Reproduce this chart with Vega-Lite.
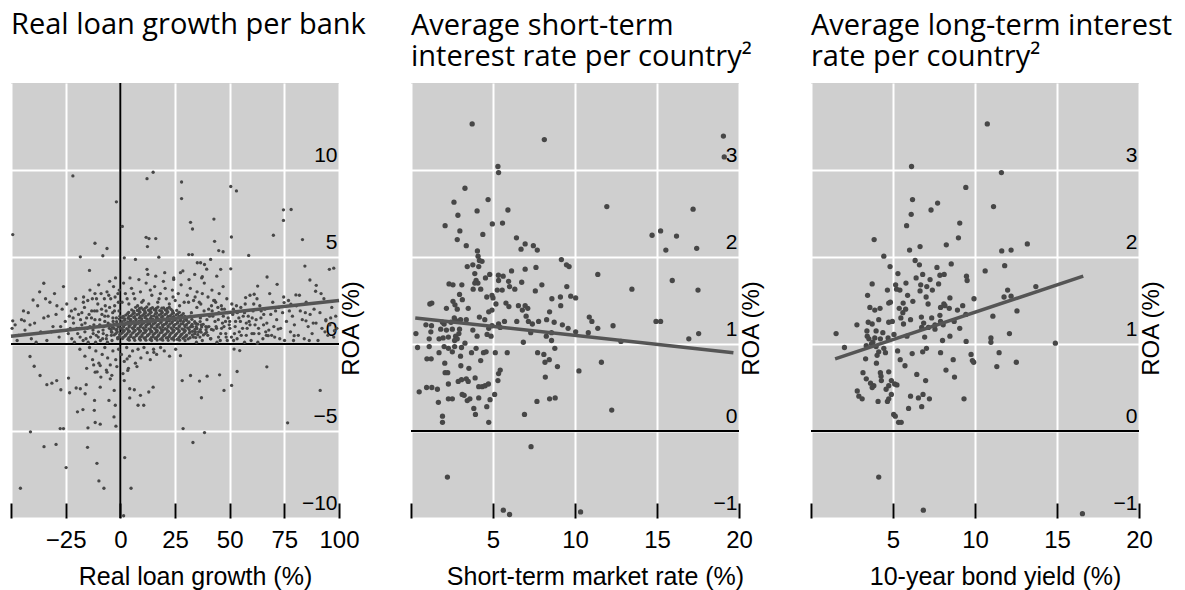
{
"$schema": "https://vega.github.io/schema/vega-lite/v6.json",
"padding": {"left": 4, "top": 11, "right": 5, "bottom": 5},
"background": "#ffffff",
"bounds": "flush",
"spacing": 72,
"datasets": {
"p1": [
{"x":-49.2,"y":6.29},{"x":-21.7,"y":9.66},{"x":12.2,"y":9.5},{"x":15,"y":9.87},{"x":-1.8,"y":8.17},{"x":28,"y":9.31},{"x":28,"y":8.36},{"x":50.5,"y":9.05},{"x":53.1,"y":8.8},{"x":0.9,"y":6.76},{"x":32.1,"y":6.99},{"x":33,"y":6.61},{"x":42.8,"y":7.18},{"x":74.6,"y":7.1},{"x":78.1,"y":7.73},{"x":74.6,"y":7.71},{"x":70,"y":6.25},{"x":50.8,"y":6.15},{"x":43.1,"y":5.9},{"x":45,"y":5.37},{"x":47,"y":5.3},{"x":58.7,"y":5.09},{"x":83.3,"y":6},{"x":11.8,"y":6.13},{"x":13.1,"y":6.06},{"x":16.2,"y":6.06},{"x":12.4,"y":5.6},{"x":-11.6,"y":5.79},{"x":-6.1,"y":5.49},{"x":-18.3,"y":5.01},{"x":-8,"y":5.07},{"x":-14.1,"y":4.23},{"x":-35,"y":3.49},{"x":-39.9,"y":2.53},{"x":-49.2,"y":1.33},{"x":-43.9,"y":1.33},{"x":84.4,"y":4.48},{"x":95.6,"y":4.29},{"x":97.6,"y":4.36},{"x":86.7,"y":3.68},{"x":89.6,"y":3.37},{"x":89.3,"y":3.03},{"x":94,"y":1.33},{"x":97.9,"y":0.76},{"x":84.9,"y":1.33},{"x":79.5,"y":0.48},{"x":72.2,"y":0.86},{"x":67.6,"y":0.48},{"x":62.7,"y":0.04},
{"x":-41.3,"y":-0.72},{"x":-39.4,"y":-1.28},{"x":-36.7,"y":-1.81},{"x":-33.6,"y":-2.34},{"x":-31.3,"y":-2.25},{"x":-29.1,"y":-2.1},{"x":-27.2,"y":-2.63},{"x":-23.2,"y":-2.8},{"x":-23.7,"y":-1.96},{"x":-20.2,"y":-2.53},{"x":-18.3,"y":-2.57},{"x":-16.1,"y":-2.86},{"x":-11.8,"y":-3.24},{"x":-15.6,"y":-2.34},{"x":-9.2,"y":-2.48},{"x":-5.2,"y":-3.24},{"x":-2.8,"y":-2.67},{"x":-11.5,"y":-1.62},{"x":-9.2,"y":-1.24},{"x":-6.1,"y":-1.62},{"x":-4.6,"y":-2},{"x":-2.3,"y":-3.52},{"x":-11.9,"y":-3.81},{"x":-19.6,"y":-3.9},{"x":-17.1,"y":-3.77},{"x":-2.9,"y":-4.19},{"x":-2,"y":-4.72},{"x":-41.1,"y":-5.05},{"x":-27.5,"y":-4.86},{"x":-26,"y":-4.86},{"x":-14.8,"y":-4.82},{"x":-11.5,"y":-4.51},{"x":-9.2,"y":-4.61},{"x":-34.9,"y":-5.9},{"x":-29.4,"y":-5.77},{"x":-15,"y":-5.94},{"x":-24.8,"y":-7.1},{"x":-10.7,"y":-6.86},{"x":2,"y":-6.53},{"x":-9.8,"y":-7.87},{"x":-7.5,"y":-8.29},{"x":4.9,"y":-8.29},{"x":-45.7,"y":-8.29},{"x":1.5,"y":-9.87},{"x":3.1,"y":-0.86},{"x":3.4,"y":-1.52},{"x":1.8,"y":-2.1},{"x":4.3,"y":-2.57},{"x":6.4,"y":-2.63},{"x":4.3,"y":-3.1},{"x":9.2,"y":-2.95},{"x":13,"y":-2.76},{"x":8.1,"y":-3.52},{"x":10.7,"y":-3.52},{"x":15,"y":-2.48},{"x":28.3,"y":-2.1},{"x":32.1,"y":-1.81},{"x":36.2,"y":-2.13},{"x":39.7,"y":-1.85},{"x":45.4,"y":-1.77},{"x":50.9,"y":-2.38},{"x":37.1,"y":-3.09},{"x":47.4,"y":-2.67},{"x":54.6,"y":-0.38},{"x":53.4,"y":-1.58},{"x":67,"y":-1.31},{"x":76.5,"y":-4.53},{"x":91.4,"y":-2.67},{"x":28.7,"y":-4.86},{"x":38.5,"y":-5.09},{"x":33.2,"y":-5.66},{"x":27.5,"y":-0.67},{"x":15.3,"y":-0.48},{"x":52,"y":-0.29},
{"x":12.2,"y":4.29},{"x":17.6,"y":4.99},{"x":6.9,"y":4.86},{"x":1.8,"y":4.95},{"x":31.3,"y":5.14},{"x":32.9,"y":5.14},{"x":35.2,"y":4.67},{"x":36.7,"y":4.67},{"x":38.5,"y":4.57},{"x":41.3,"y":4.86},{"x":45.9,"y":4.29},{"x":50.5,"y":4.32},{"x":37.5,"y":3.87},{"x":27.5,"y":4.1},{"x":24.4,"y":3.71},{"x":62.8,"y":3.33},{"x":67.1,"y":3.85},{"x":71.7,"y":3.43},{"x":61.2,"y":2.86},{"x":57.3,"y":2.67},{"x":74.9,"y":2.38},{"x":80.3,"y":2.82},{"x":78,"y":2.29},
{"x":1,"y":0.31},{"x":3.5,"y":0.27},{"x":6,"y":0.34},{"x":8.7,"y":0.29},{"x":11,"y":0.33},{"x":13.6,"y":0.26},{"x":16,"y":0.32},{"x":18.4,"y":0.28},{"x":21,"y":0.35},{"x":23.5,"y":0.3},{"x":26,"y":0.27},{"x":28.7,"y":0.33},{"x":31,"y":0.29},
{"x":2.2,"y":0.46},{"x":4.8,"y":0.43},{"x":7.3,"y":0.48},{"x":9.9,"y":0.44},{"x":12.4,"y":0.47},{"x":15,"y":0.42},{"x":17.3,"y":0.46},{"x":19.9,"y":0.49},{"x":22.4,"y":0.43},{"x":25,"y":0.47},{"x":27.4,"y":0.44},{"x":30,"y":0.45},
{"x":0.5,"y":0.61},{"x":3,"y":0.58},{"x":5.6,"y":0.63},{"x":8.1,"y":0.59},{"x":10.6,"y":0.62},{"x":13.2,"y":0.57},{"x":15.7,"y":0.61},{"x":18.2,"y":0.64},{"x":20.8,"y":0.58},{"x":23.3,"y":0.62},{"x":25.8,"y":0.6},{"x":28.3,"y":0.57},{"x":31.5,"y":0.63},{"x":34,"y":0.59},
{"x":1.8,"y":0.76},{"x":4.2,"y":0.73},{"x":6.8,"y":0.78},{"x":9.3,"y":0.74},{"x":11.9,"y":0.77},{"x":14.4,"y":0.72},{"x":16.9,"y":0.76},{"x":19.5,"y":0.79},{"x":22,"y":0.73},{"x":24.6,"y":0.77},{"x":27,"y":0.74},{"x":29.7,"y":0.76},{"x":33,"y":0.73},
{"x":0.2,"y":0.91},{"x":2.9,"y":0.88},{"x":5.5,"y":0.93},{"x":8,"y":0.89},{"x":10.5,"y":0.92},{"x":13.1,"y":0.87},{"x":15.6,"y":0.91},{"x":18.1,"y":0.94},{"x":20.6,"y":0.88},{"x":23.2,"y":0.92},{"x":25.7,"y":0.9},{"x":28.2,"y":0.87},{"x":30.8,"y":0.93},{"x":35,"y":0.89},
{"x":1.5,"y":1.06},{"x":4,"y":1.03},{"x":6.6,"y":1.08},{"x":9.1,"y":1.04},{"x":11.7,"y":1.07},{"x":14.2,"y":1.02},{"x":16.8,"y":1.06},{"x":19.3,"y":1.09},{"x":21.8,"y":1.03},{"x":24.4,"y":1.07},{"x":26.9,"y":1.04},{"x":29.5,"y":1.06},{"x":32.5,"y":1.03},
{"x":0.6,"y":1.21},{"x":3.2,"y":1.18},{"x":5.7,"y":1.23},{"x":8.3,"y":1.19},{"x":10.8,"y":1.22},{"x":13.4,"y":1.17},{"x":15.9,"y":1.21},{"x":18.5,"y":1.24},{"x":21,"y":1.18},{"x":23.6,"y":1.22},{"x":26.1,"y":1.2},{"x":28.6,"y":1.17},{"x":31.2,"y":1.23},{"x":34.5,"y":1.19},
{"x":2,"y":1.36},{"x":4.6,"y":1.33},{"x":7.1,"y":1.38},{"x":9.7,"y":1.34},{"x":12.2,"y":1.37},{"x":14.8,"y":1.32},{"x":17.3,"y":1.36},{"x":19.9,"y":1.39},{"x":22.4,"y":1.33},{"x":25,"y":1.37},{"x":27.5,"y":1.34},{"x":30.2,"y":1.36},
{"x":1,"y":1.51},{"x":3.6,"y":1.48},{"x":6.2,"y":1.53},{"x":8.7,"y":1.49},{"x":11.3,"y":1.52},{"x":13.8,"y":1.47},{"x":16.4,"y":1.51},{"x":18.9,"y":1.54},{"x":21.5,"y":1.48},{"x":24,"y":1.52},{"x":26.6,"y":1.5},{"x":29.3,"y":1.47},
{"x":2.5,"y":1.66},{"x":5,"y":1.63},{"x":7.6,"y":1.68},{"x":10.2,"y":1.64},{"x":12.7,"y":1.67},{"x":15.3,"y":1.62},{"x":17.8,"y":1.66},{"x":20.4,"y":1.69},{"x":22.9,"y":1.63},{"x":25.5,"y":1.67},{"x":28,"y":1.64},
{"x":3.8,"y":1.81},{"x":6.4,"y":1.78},{"x":9,"y":1.83},{"x":11.5,"y":1.79},{"x":14.1,"y":1.82},{"x":16.6,"y":1.77},{"x":19.2,"y":1.81},{"x":21.7,"y":1.84},{"x":24.3,"y":1.78},{"x":27,"y":1.82},
{"x":5.2,"y":1.96},{"x":7.8,"y":1.93},{"x":10.4,"y":1.98},{"x":12.9,"y":1.94},{"x":15.5,"y":1.97},{"x":18,"y":1.92},{"x":20.6,"y":1.96},{"x":23.2,"y":1.99},{"x":25.8,"y":1.93},
{"x":7,"y":2.11},{"x":9.6,"y":2.08},{"x":12.1,"y":2.13},{"x":14.7,"y":2.09},{"x":17.2,"y":2.12},{"x":19.8,"y":2.07},{"x":22.4,"y":2.11},
{"x":4.1,"y":0.22},{"x":6.6,"y":0.21},{"x":9.2,"y":0.23},{"x":11.7,"y":0.22},{"x":14.3,"y":0.2},{"x":16.8,"y":0.23},{"x":19.4,"y":0.22},{"x":21.9,"y":0.21},{"x":24.5,"y":0.23},{"x":27.1,"y":0.22},{"x":29.6,"y":0.2},
{"x":-1.2,"y":0.37},{"x":1.3,"y":0.38},{"x":3.9,"y":0.36},{"x":6.4,"y":0.37},{"x":9,"y":0.39},{"x":11.5,"y":0.37},{"x":14.1,"y":0.36},{"x":16.6,"y":0.38},{"x":19.2,"y":0.37},{"x":21.7,"y":0.36},{"x":24.3,"y":0.38},{"x":26.8,"y":0.37},{"x":29.4,"y":0.39},{"x":31.9,"y":0.36},{"x":34.5,"y":0.37},
{"x":-2.8,"y":0.52},{"x":-0.3,"y":0.53},{"x":2.3,"y":0.51},{"x":4.8,"y":0.52},{"x":7.4,"y":0.54},{"x":9.9,"y":0.52},{"x":12.5,"y":0.51},{"x":15,"y":0.53},{"x":17.6,"y":0.52},{"x":20.1,"y":0.51},{"x":22.7,"y":0.53},{"x":25.2,"y":0.52},{"x":27.8,"y":0.54},{"x":30.3,"y":0.51},{"x":32.9,"y":0.52},{"x":35.4,"y":0.53},{"x":38,"y":0.52},
{"x":-3.9,"y":0.68},{"x":-1.4,"y":0.69},{"x":1.2,"y":0.67},{"x":3.7,"y":0.68},{"x":6.3,"y":0.7},{"x":8.8,"y":0.68},{"x":11.4,"y":0.67},{"x":13.9,"y":0.69},{"x":16.5,"y":0.68},{"x":19,"y":0.67},{"x":21.6,"y":0.69},{"x":24.1,"y":0.68},{"x":26.7,"y":0.7},{"x":29.2,"y":0.67},{"x":31.8,"y":0.68},{"x":34.3,"y":0.69},{"x":36.9,"y":0.68},{"x":39.4,"y":0.67},
{"x":-4.2,"y":0.83},{"x":-1.6,"y":0.84},{"x":0.9,"y":0.82},{"x":3.5,"y":0.83},{"x":6,"y":0.85},{"x":8.6,"y":0.83},{"x":11.1,"y":0.82},{"x":13.7,"y":0.84},{"x":16.2,"y":0.83},{"x":18.8,"y":0.82},{"x":21.3,"y":0.84},{"x":23.9,"y":0.83},{"x":26.4,"y":0.85},{"x":29,"y":0.82},{"x":31.5,"y":0.83},{"x":34.1,"y":0.84},{"x":36.6,"y":0.83},{"x":39.2,"y":0.82},{"x":41.7,"y":0.84},
{"x":-3.6,"y":0.98},{"x":-1,"y":0.99},{"x":1.5,"y":0.97},{"x":4.1,"y":0.98},{"x":6.6,"y":1},{"x":9.2,"y":0.98},{"x":11.7,"y":0.97},{"x":14.3,"y":0.99},{"x":16.8,"y":0.98},{"x":19.4,"y":0.97},{"x":21.9,"y":0.99},{"x":24.5,"y":0.98},{"x":27,"y":1},{"x":29.6,"y":0.97},{"x":32.1,"y":0.98},{"x":34.7,"y":0.99},{"x":37.2,"y":0.98},{"x":39.8,"y":0.97},
{"x":-2.9,"y":1.13},{"x":-0.3,"y":1.14},{"x":2.2,"y":1.12},{"x":4.8,"y":1.13},{"x":7.3,"y":1.15},{"x":9.9,"y":1.13},{"x":12.4,"y":1.12},{"x":15,"y":1.14},{"x":17.5,"y":1.13},{"x":20.1,"y":1.12},{"x":22.6,"y":1.14},{"x":25.2,"y":1.13},{"x":27.7,"y":1.15},{"x":30.3,"y":1.12},{"x":32.8,"y":1.13},{"x":35.4,"y":1.14},{"x":37.9,"y":1.13},
{"x":-1.7,"y":1.28},{"x":0.8,"y":1.29},{"x":3.4,"y":1.27},{"x":5.9,"y":1.28},{"x":8.5,"y":1.3},{"x":11,"y":1.28},{"x":13.6,"y":1.27},{"x":16.1,"y":1.29},{"x":18.7,"y":1.28},{"x":21.2,"y":1.27},{"x":23.8,"y":1.29},{"x":26.3,"y":1.28},{"x":28.9,"y":1.3},{"x":31.4,"y":1.27},{"x":34,"y":1.28},{"x":36.5,"y":1.29},
{"x":-0.4,"y":1.43},{"x":2.1,"y":1.44},{"x":4.7,"y":1.42},{"x":7.2,"y":1.43},{"x":9.8,"y":1.45},{"x":12.3,"y":1.43},{"x":14.9,"y":1.42},{"x":17.4,"y":1.44},{"x":20,"y":1.43},{"x":22.5,"y":1.42},{"x":25.1,"y":1.44},{"x":27.6,"y":1.43},{"x":30.2,"y":1.45},{"x":32.7,"y":1.42},
{"x":1.4,"y":1.58},{"x":4,"y":1.59},{"x":6.5,"y":1.57},{"x":9.1,"y":1.58},{"x":11.6,"y":1.6},{"x":14.2,"y":1.58},{"x":16.7,"y":1.57},{"x":19.3,"y":1.59},{"x":21.8,"y":1.58},{"x":24.4,"y":1.57},{"x":26.9,"y":1.59},{"x":29.5,"y":1.58},{"x":32,"y":1.6},
{"x":3.3,"y":1.74},{"x":5.8,"y":1.75},{"x":8.4,"y":1.73},{"x":10.9,"y":1.74},{"x":13.5,"y":1.76},{"x":16,"y":1.74},{"x":18.6,"y":1.73},{"x":21.1,"y":1.75},{"x":23.7,"y":1.74},{"x":26.2,"y":1.73},{"x":28.8,"y":1.75},
{"x":6.1,"y":1.89},{"x":8.6,"y":1.9},{"x":11.2,"y":1.88},{"x":13.7,"y":1.89},{"x":16.3,"y":1.91},{"x":18.8,"y":1.89},{"x":21.4,"y":1.88},{"x":23.9,"y":1.9},
{"x":8.8,"y":2.04},{"x":11.3,"y":2.05},{"x":13.9,"y":2.03},{"x":16.4,"y":2.04},{"x":19,"y":2.06},{"x":21.5,"y":2.04},
{"x":-24.1,"y":0.8},{"x":-23.3,"y":1.6},{"x":-22.2,"y":0.3},{"x":-21.4,"y":1.2},{"x":-20.7,"y":2},{"x":-19.9,"y":0.9},{"x":-19.1,"y":1.7},{"x":-18.4,"y":0.4},{"x":-17.6,"y":1.1},{"x":-16.9,"y":2.4},{"x":-16.2,"y":0.7},{"x":-15.4,"y":1.5},{"x":-14.7,"y":0.1},{"x":-13.9,"y":1},{"x":-13.1,"y":1.9},{"x":-12.4,"y":0.6},{"x":-11.6,"y":1.4},{"x":-10.9,"y":2.6},{"x":-10.1,"y":0.4},{"x":-9.4,"y":1.1},{"x":-8.6,"y":2},{"x":-7.9,"y":0.8},{"x":-7.1,"y":1.6},{"x":-6.4,"y":0.3},{"x":-5.6,"y":1.2},{"x":-4.9,"y":2.1},{"x":-4.1,"y":0.5},{"x":-3.4,"y":1.5},{"x":-2.6,"y":2.2},{"x":-1.9,"y":0.8},
{"x":40.5,"y":1},{"x":41.4,"y":0.3},{"x":42.3,"y":1.6},{"x":43.1,"y":2.5},{"x":44,"y":0.9},{"x":44.8,"y":1.4},{"x":45.7,"y":0.2},{"x":46.5,"y":2},{"x":47.4,"y":1},{"x":48.2,"y":0.6},{"x":49.1,"y":1.8},{"x":50,"y":1.3},{"x":50.8,"y":0.4},{"x":51.7,"y":2},{"x":52.5,"y":1},{"x":53.4,"y":0.3},{"x":54.2,"y":1.5},{"x":55.1,"y":2.1},{"x":55.9,"y":0.9},{"x":56.8,"y":1.8},{"x":57.6,"y":0.5},{"x":58.5,"y":1.6},{"x":59.3,"y":1.1},{"x":60.2,"y":0.6},{"x":61,"y":2.3},{"x":62.1,"y":1.4},{"x":63.2,"y":0.9},{"x":64.4,"y":1.9},{"x":65.5,"y":1.1},{"x":66.8,"y":0.5},
{"x":-19.5,"y":0.6},{"x":-18.2,"y":1.4},{"x":-17,"y":0.2},{"x":-16.4,"y":2.1},{"x":-15.1,"y":0.9},{"x":-14.3,"y":1.7},{"x":-13.6,"y":0.4},{"x":-12.8,"y":2.6},{"x":-12.1,"y":1.1},{"x":-11.3,"y":0.1},{"x":-10.7,"y":1.9},{"x":-10,"y":0.7},{"x":-9.4,"y":1.4},{"x":-8.8,"y":2.9},{"x":-8.1,"y":0.3},{"x":-7.5,"y":1},{"x":-6.9,"y":2.2},{"x":-6.2,"y":0.5},{"x":-5.6,"y":1.6},{"x":-5,"y":0.9},{"x":-4.4,"y":2.6},{"x":-3.8,"y":0.2},{"x":-3.3,"y":1.3},{"x":-2.7,"y":1.9},{"x":-2.1,"y":0.6},{"x":-1.5,"y":1.1},{"x":-0.9,"y":2.4},{"x":-0.4,"y":0.4},{"x":-0.2,"y":1.6},
{"x":-18.8,"y":0.9},{"x":-17.6,"y":1.8},{"x":-16.1,"y":1.2},{"x":-15.7,"y":0.3},{"x":-14.9,"y":2.5},{"x":-13.2,"y":1.5},{"x":-12.5,"y":0.8},{"x":-11.8,"y":1.9},{"x":-11,"y":0.5},{"x":-10.3,"y":2.3},{"x":-9.7,"y":1},{"x":-9.1,"y":0.2},{"x":-8.4,"y":1.7},{"x":-7.8,"y":0.6},{"x":-7.1,"y":1.3},{"x":-6.5,"y":1.9},{"x":-5.9,"y":0.1},{"x":-5.3,"y":2.8},{"x":-4.7,"y":1.1},{"x":-4.1,"y":0.7},{"x":-3.5,"y":1.8},{"x":-2.9,"y":0.9},{"x":-2.4,"y":2.7},{"x":-1.8,"y":1.5},{"x":-1.2,"y":0.3},{"x":-0.6,"y":1.9},
{"x":-13.9,"y":3.1},{"x":-9.9,"y":3.4},{"x":-6.1,"y":3},{"x":-3.1,"y":3.3},{"x":-1.1,"y":2.9},{"x":-7.3,"y":2.6},{"x":-11.6,"y":2.9},{"x":-16.8,"y":2.7},{"x":-4.9,"y":3.6},{"x":-2.2,"y":3.8},{"x":-0.5,"y":3.1},
{"x":-18.5,"y":-0.3},{"x":-16.2,"y":-0.7},{"x":-14.1,"y":-0.2},{"x":-12.7,"y":-0.9},{"x":-11.2,"y":-0.4},{"x":-9.8,"y":-1.1},{"x":-8.3,"y":-0.6},{"x":-7.1,"y":-0.2},{"x":-5.8,"y":-0.8},{"x":-4.6,"y":-1.2},{"x":-3.4,"y":-0.4},{"x":-2.1,"y":-0.9},{"x":-0.8,"y":-0.3},{"x":0.5,"y":-0.6},{"x":1.8,"y":-1},{"x":2.9,"y":-0.2},{"x":4.2,"y":-0.7},{"x":5.6,"y":-0.4},{"x":6.9,"y":-1.1},{"x":8.1,"y":-0.3},{"x":9.4,"y":-0.8},{"x":10.8,"y":-0.2},{"x":12.3,"y":-0.5},{"x":13.7,"y":-0.9},{"x":15.2,"y":-0.3},{"x":16.6,"y":-0.6},{"x":18.4,"y":-0.2},{"x":20.1,"y":-0.4},{"x":22.5,"y":-0.7},{"x":25.3,"y":-0.3},
{"x":-15.4,"y":-1.4},{"x":-10.6,"y":-1.6},{"x":-6.4,"y":-1.5},{"x":-1.6,"y":-1.3},{"x":3.7,"y":-1.4},{"x":7.6,"y":-1.3},{"x":-8.9,"y":-1.9},{"x":-12.2,"y":-1.2},{"x":-3.9,"y":-1.8},{"x":1.2,"y":-1.7},
{"x":0.8,"y":2.4},{"x":2.3,"y":2.9},{"x":3.9,"y":2.3},{"x":5.1,"y":3.2},{"x":6.6,"y":2.6},{"x":7.9,"y":2.2},{"x":9.2,"y":3},{"x":10.5,"y":2.5},{"x":11.8,"y":3.5},{"x":13,"y":2.3},{"x":14.4,"y":2.8},{"x":15.7,"y":3.3},{"x":17.1,"y":2.4},{"x":18.3,"y":2.9},{"x":19.7,"y":3.6},{"x":21,"y":2.6},{"x":22.4,"y":2.3},{"x":23.8,"y":3.1},{"x":25.1,"y":2.5},{"x":26.5,"y":2.9},{"x":27.8,"y":3.4},{"x":29.2,"y":2.4},{"x":30.6,"y":2.8},{"x":32,"y":3.2},{"x":33.5,"y":2.5},{"x":35.1,"y":3},{"x":36.8,"y":2.3},{"x":38.4,"y":3.5},{"x":40.1,"y":2.7},{"x":41.9,"y":3.1},{"x":43.6,"y":2.4},{"x":45.2,"y":2.9},{"x":47,"y":3.3},{"x":48.7,"y":2.6},
{"x":1.5,"y":3.5},{"x":4.4,"y":3.8},{"x":8.5,"y":3.7},{"x":12.6,"y":4},{"x":16.2,"y":3.9},{"x":20.3,"y":4.1},{"x":24.4,"y":3.8},{"x":28.6,"y":4.2},{"x":31.4,"y":3.7},{"x":34,"y":4},{"x":37.2,"y":3.8},{"x":39.5,"y":4.3},{"x":44.1,"y":3.9},{"x":3.1,"y":2.6},{"x":6,"y":2.9},{"x":9.8,"y":2.4},{"x":13.7,"y":3.1},{"x":17.7,"y":2.6},{"x":20.5,"y":3.2},{"x":24.1,"y":2.7},{"x":27.1,"y":2.2},{"x":31.2,"y":2.4},{"x":34.2,"y":2.7},{"x":37.5,"y":2.9},{"x":42.7,"y":2.5},{"x":46.2,"y":2.2},
{"x":32.5,"y":1.8},{"x":33.4,"y":0.4},{"x":34.2,"y":1.2},{"x":35,"y":2.1},{"x":35.8,"y":0.7},{"x":36.6,"y":1.5},{"x":37.5,"y":0.2},{"x":38.3,"y":1.9},{"x":39.1,"y":1},{"x":40,"y":0.5},{"x":40.8,"y":1.6},{"x":41.7,"y":2.2},{"x":42.5,"y":0.8},{"x":43.3,"y":1.3},{"x":44.2,"y":0.1},{"x":45,"y":1.8},{"x":45.9,"y":0.6},{"x":46.7,"y":1.2},{"x":47.6,"y":2},{"x":48.4,"y":0.4},{"x":49.3,"y":1.5},{"x":50.1,"y":0.9},{"x":51,"y":2.3},{"x":51.8,"y":0.2},{"x":52.7,"y":1.3},{"x":53.5,"y":1.8},{"x":54.4,"y":0.7},
{"x":33,"y":1},{"x":34.8,"y":0.1},{"x":36.1,"y":2.4},{"x":37,"y":1.1},{"x":38.8,"y":0.6},{"x":39.6,"y":1.4},{"x":41.2,"y":0.3},{"x":42,"y":1.9},{"x":43.8,"y":1},{"x":44.6,"y":2.1},{"x":46.3,"y":0.9},{"x":47.1,"y":1.6},{"x":48.9,"y":0.2},{"x":49.8,"y":1.1},{"x":51.4,"y":1.7},{"x":52.2,"y":0.6},{"x":53.1,"y":2.2},{"x":54.9,"y":1.3},{"x":36.4,"y":0.4},{"x":40.4,"y":2},{"x":44.9,"y":0.4},{"x":48.1,"y":1.3},
{"x":55.3,"y":0.5},{"x":56.2,"y":1.6},{"x":57.1,"y":2.3},{"x":58,"y":0.9},{"x":58.9,"y":1.3},{"x":59.8,"y":0.2},{"x":60.7,"y":1.9},{"x":61.6,"y":1.1},{"x":62.5,"y":2.6},{"x":63.4,"y":0.6},{"x":64.3,"y":1.5},{"x":65.2,"y":0.3},{"x":66.1,"y":2},{"x":67,"y":1.2},{"x":67.9,"y":0.8},{"x":68.8,"y":1.7},{"x":69.7,"y":2.4},{"x":70.6,"y":0.4},{"x":71.5,"y":1.4},{"x":72.4,"y":2.1},{"x":73.3,"y":0.9},{"x":74.2,"y":1.8},{"x":75.1,"y":0.2},{"x":76,"y":1.3},{"x":76.9,"y":2.5},{"x":77.8,"y":0.7},{"x":78.7,"y":1.6},{"x":79.6,"y":1.1},{"x":80.5,"y":2.2},{"x":81.4,"y":0.5},{"x":82.3,"y":1.9},{"x":83.2,"y":1.4},{"x":84.1,"y":0.3},{"x":85,"y":2.4},{"x":85.9,"y":1},{"x":86.8,"y":1.7},{"x":87.7,"y":0.6},{"x":88.6,"y":2},{"x":89.5,"y":1.2},{"x":90.4,"y":0.2},{"x":91.3,"y":1.8},{"x":92.2,"y":0.9},{"x":93.1,"y":2.6},{"x":94,"y":1.4},{"x":94.9,"y":0.5},{"x":95.8,"y":1.1},{"x":96.7,"y":2.1},{"x":97.6,"y":0.4},{"x":98.5,"y":1.6},
{"x":56.8,"y":0.1},{"x":59.3,"y":2.8},{"x":61.1,"y":0.6},{"x":63.8,"y":2.2},{"x":66.5,"y":0.7},{"x":68.3,"y":2.9},{"x":70.2,"y":1},{"x":72.9,"y":0.3},{"x":74.7,"y":2.7},{"x":77.3,"y":1.9},{"x":79.2,"y":0.2},{"x":81.9,"y":2.8},{"x":84.6,"y":1.8},{"x":86.4,"y":0.2},{"x":88.2,"y":1.2},{"x":91.8,"y":2.9},{"x":93.6,"y":0.7},{"x":96.2,"y":1.5},{"x":99,"y":0.9},{"x":57.6,"y":1.2},{"x":60.3,"y":1.5},{"x":62.9,"y":0.1},{"x":65.6,"y":1.7},{"x":69.2,"y":0.5},{"x":71,"y":1.9},
{"x":-49.5,"y":0.9},{"x":-48.1,"y":1.1},{"x":-46.5,"y":0.5},{"x":-45.2,"y":1.4},{"x":-43.6,"y":0.8},{"x":-42.1,"y":1.8},{"x":-40.7,"y":0.3},{"x":-39.2,"y":1.2},{"x":-37.8,"y":2.2},{"x":-36.4,"y":0.7},{"x":-35,"y":1.5},{"x":-33.6,"y":0.2},{"x":-32.2,"y":2.4},{"x":-30.8,"y":1},{"x":-29.4,"y":1.7},{"x":-28,"y":0.4},{"x":-26.6,"y":2},{"x":-25.2,"y":1.3},{"x":-23.8,"y":0.6},{"x":-22.4,"y":1.9},{"x":-21,"y":0.1},{"x":-20.4,"y":2.6},
{"x":-47.2,"y":0.2},{"x":-44.3,"y":1.9},{"x":-41.3,"y":1.1},{"x":-38.5,"y":0.1},{"x":-34.2,"y":2.6},{"x":-31.5,"y":0.7},{"x":-27.3,"y":1},{"x":-24.5,"y":2.3},{"x":-22.9,"y":0.9},{"x":-36.9,"y":3},{"x":-30.1,"y":2.9},{"x":-26,"y":3.3},{"x":-33,"y":1.6},{"x":-29,"y":2.2},{"x":-21.6,"y":1.5}
],
"p2": [
{"x":3.73,"y":3.53},{"x":8.13,"y":3.35},{"x":19.05,"y":3.39},{"x":19.1,"y":3.15},{"x":5.3,"y":3.04},{"x":5.34,"y":2.97},{"x":3.29,"y":2.79},{"x":2.62,"y":2.63},{"x":4.7,"y":2.66},{"x":2.86,"y":2.48},{"x":4.03,"y":2.53},{"x":5.91,"y":2.54},{"x":11.94,"y":2.58},{"x":17.2,"y":2.55},{"x":2.08,"y":2.36},{"x":2.98,"y":2.3},{"x":4.96,"y":2.38},{"x":5.58,"y":2.39},{"x":4.38,"y":2.26},{"x":2.82,"y":2.2},{"x":3.37,"y":2.13},{"x":6.43,"y":2.22},{"x":6.96,"y":2.15},{"x":6.71,"y":2.09},{"x":7.46,"y":2.13},{"x":7.7,"y":2.08},{"x":14.7,"y":2.25},{"x":15.22,"y":2.3},{"x":16.19,"y":2.24},{"x":15.54,"y":2.08},{"x":17.42,"y":2.1},{"x":4.05,"y":2.07},{"x":4.09,"y":2.01},{"x":4.17,"y":1.96},{"x":4.33,"y":1.95},{"x":3.43,"y":1.89},{"x":3.77,"y":1.91},{"x":4.13,"y":1.89},{"x":9.17,"y":1.97},{"x":9.48,"y":1.91},{"x":9.64,"y":1.89},{"x":7.62,"y":1.88},{"x":6.96,"y":1.86},{"x":6.13,"y":1.84},{"x":3.89,"y":1.81},{"x":4.8,"y":1.8},{"x":5.33,"y":1.79},{"x":5.62,"y":1.78},{"x":11.39,"y":1.8},{"x":15.93,"y":1.73},{"x":4.54,"y":1.76},{"x":3.97,"y":1.73},{"x":4.08,"y":1.7},{"x":3.89,"y":1.7},{"x":2.32,"y":1.69},{"x":2.56,"y":1.68},{"x":3.1,"y":1.68},{"x":5.34,"y":1.73},{"x":5.95,"y":1.72},{"x":6.75,"y":1.71},{"x":6.01,"y":1.66},{"x":6.33,"y":1.63},{"x":7.98,"y":1.68},{"x":9.5,"y":1.66},{"x":7.58,"y":1.61},{"x":13.47,"y":1.63},{"x":17.5,"y":1.62},{"x":4.25,"y":1.63},{"x":3.79,"y":1.63},{"x":2.96,"y":1.57},{"x":4.94,"y":1.56},{"x":4.62,"y":1.54},{"x":5,"y":1.53},{"x":5.26,"y":1.62},{"x":5.56,"y":1.62},{"x":9.74,"y":1.55},{"x":10.04,"y":1.53},{"x":8.59,"y":1.52},{"x":9.11,"y":1.54},{"x":1.27,"y":1.47},{"x":1.15,"y":1.46},{"x":2.56,"y":1.49},{"x":2.68,"y":1.45},{"x":3.13,"y":1.51},{"x":5.79,"y":1.47},{"x":5.97,"y":1.43},{"x":5.18,"y":1.46},{"x":6.55,"y":1.44},{"x":6.96,"y":1.44},{"x":7.12,"y":1.41},{"x":9.13,"y":1.44},{"x":2.16,"y":1.41},{"x":2.82,"y":1.4},{"x":3.49,"y":1.41},{"x":4.94,"y":1.39},{"x":4.74,"y":1.37},{"x":6.79,"y":1.39},{"x":8.45,"y":1.37},{"x":6.45,"y":1.26},{"x":7.02,"y":1.32},{"x":7.16,"y":1.26},{"x":10.87,"y":1.31},{"x":11.03,"y":1.26},{"x":4.17,"y":1.31},{"x":4.5,"y":1.28},{"x":2.64,"y":1.3},{"x":3.02,"y":1.28},{"x":3.37,"y":1.28},{"x":1.92,"y":1.25},{"x":2.02,"y":1.23},{"x":2.44,"y":1.25},{"x":2.72,"y":1.27},{"x":5.7,"y":1.26},{"x":7.78,"y":1.26},{"x":8.27,"y":1.28},{"x":8.73,"y":1.25},{"x":9.23,"y":1.22},{"x":9.58,"y":1.18},{"x":11.39,"y":1.18},{"x":12.32,"y":1.21},{"x":14.94,"y":1.26},{"x":15.22,"y":1.26},{"x":0.91,"y":1.22},{"x":1.25,"y":1.21},{"x":0.3,"y":1.12},{"x":1.21,"y":1.14},{"x":1.81,"y":1.17},{"x":2.16,"y":1.16},{"x":2.52,"y":1.17},{"x":2.96,"y":1.17},{"x":3.77,"y":1.16},{"x":4.74,"y":1.18},{"x":4.94,"y":1.21},{"x":5.34,"y":1.23},{"x":5.44,"y":1.19},{"x":7.4,"y":1.23},{"x":7.3,"y":1.13},{"x":8.57,"y":1.13},{"x":8.25,"y":1.09},{"x":8.57,"y":1.04},{"x":10.04,"y":1.14},{"x":10.81,"y":1.13},{"x":12.8,"y":1.03},{"x":17.54,"y":1.12},{"x":16.94,"y":1.06},{"x":1.11,"y":1.06},{"x":1.71,"y":1.06},{"x":1.96,"y":1.07},{"x":2.28,"y":1.08},{"x":2.72,"y":1.09},{"x":2.92,"y":1.12},{"x":2.66,"y":1.04},{"x":2.82,"y":1.06},{"x":4.03,"y":1.09},{"x":4.64,"y":1.11},{"x":4.88,"y":1.09},{"x":6.85,"y":1.02},{"x":0.4,"y":0.96},{"x":1.11,"y":0.97},{"x":2.02,"y":0.97},{"x":2.28,"y":0.95},{"x":2.66,"y":0.97},{"x":3.08,"y":0.96},{"x":3.29,"y":1.01},{"x":3.97,"y":0.95},{"x":8.77,"y":0.95},{"x":1.71,"y":0.9},{"x":2.52,"y":0.91},{"x":3.69,"y":0.9},{"x":4.42,"y":0.9},{"x":4.58,"y":0.91},{"x":5.14,"y":0.9},{"x":5.87,"y":0.9},{"x":7.72,"y":0.9},{"x":8.1,"y":0.88},{"x":8.17,"y":0.79},{"x":8.43,"y":0.82},{"x":8.93,"y":0.74},{"x":11.61,"y":0.79},{"x":0.97,"y":0.83},{"x":1.23,"y":0.83},{"x":3.02,"y":0.86},{"x":2.06,"y":0.78},{"x":4.25,"y":0.81},{"x":3.04,"y":0.75},{"x":3.53,"y":0.72},{"x":2.08,"y":0.67},{"x":2.24,"y":0.67},{"x":5.44,"y":0.7},{"x":5.34,"y":0.66},{"x":10.24,"y":0.69},{"x":8.19,"y":0.62},{"x":3.91,"y":0.61},{"x":5.3,"y":0.58},{"x":2.88,"y":0.57},{"x":3.08,"y":0.59},{"x":3.37,"y":0.6},{"x":3.49,"y":0.57},{"x":2.28,"y":0.54},{"x":4.13,"y":0.51},{"x":4.34,"y":0.51},{"x":4.52,"y":0.52},{"x":4.72,"y":0.54},{"x":0.95,"y":0.5},{"x":1.27,"y":0.5},{"x":1.61,"y":0.48},{"x":0.5,"y":0.45},{"x":5.1,"y":0.42},{"x":3.12,"y":0.42},{"x":3.24,"y":0.41},{"x":3.59,"y":0.37},{"x":3.43,"y":0.35},{"x":2.28,"y":0.37},{"x":2.52,"y":0.37},{"x":4.13,"y":0.38},{"x":4.82,"y":0.36},{"x":1.67,"y":0.33},{"x":8.45,"y":0.37},{"x":8.79,"y":0.38},{"x":7.68,"y":0.34},{"x":3.83,"y":0.26},{"x":4.62,"y":0.28},{"x":3.93,"y":0.19},{"x":1.92,"y":0.17},{"x":1.92,"y":0.1},{"x":4.74,"y":0.1},{"x":6.92,"y":0.19},{"x":12.24,"y":0.24},{"x":7.32,"y":-0.18},{"x":2.22,"y":-0.53},{"x":5.63,"y":-0.91},{"x":6.01,"y":-0.96},{"x":10.34,"y":-0.93}
],
"p3": [
{"x":10.75,"y":3.53},{"x":6.13,"y":3.04},{"x":11.61,"y":2.97},{"x":9.44,"y":2.8},{"x":6.19,"y":2.66},{"x":7.72,"y":2.62},{"x":11.13,"y":2.58},{"x":7.32,"y":2.54},{"x":6.11,"y":2.49},{"x":9.07,"y":2.39},{"x":5.83,"y":2.36},{"x":8.99,"y":2.22},{"x":3.85,"y":2.2},{"x":13.19,"y":2.15},{"x":6.65,"y":2.12},{"x":8.25,"y":2.14},{"x":6.01,"y":2.08},{"x":11.63,"y":2.07},{"x":12.2,"y":2.08},{"x":4.44,"y":2.01},{"x":6.35,"y":1.96},{"x":6.61,"y":1.91},{"x":4.82,"y":1.89},{"x":7.68,"y":1.88},{"x":8.55,"y":1.92},{"x":11.81,"y":1.9},{"x":10.62,"y":1.84},{"x":5.3,"y":1.81},{"x":6.81,"y":1.8},{"x":7.86,"y":1.79},{"x":8.12,"y":1.8},{"x":9.48,"y":1.78},{"x":9.52,"y":1.73},{"x":6.41,"y":1.76},{"x":7.26,"y":1.74},{"x":3.73,"y":1.69},{"x":5.16,"y":1.68},{"x":5.79,"y":1.7},{"x":6.69,"y":1.68},{"x":7.06,"y":1.66},{"x":7.78,"y":1.69},{"x":13.71,"y":1.66},{"x":5.22,"y":1.63},{"x":4.66,"y":1.62},{"x":5.42,"y":1.62},{"x":6.65,"y":1.61},{"x":7.4,"y":1.62},{"x":11.99,"y":1.62},{"x":3.45,"y":1.56},{"x":5.89,"y":1.56},{"x":7.02,"y":1.54},{"x":8.47,"y":1.53},{"x":9.94,"y":1.52},{"x":11.77,"y":1.54},{"x":12.2,"y":1.55},{"x":4.74,"y":1.47},{"x":4.84,"y":1.48},{"x":5.62,"y":1.47},{"x":6.21,"y":1.49},{"x":7.14,"y":1.46},{"x":8.1,"y":1.46},{"x":9.25,"y":1.44},{"x":3.59,"y":1.42},{"x":3.89,"y":1.39},{"x":4.21,"y":1.41},{"x":5.38,"y":1.41},{"x":5.77,"y":1.4},{"x":7.9,"y":1.42},{"x":8.17,"y":1.44},{"x":8.43,"y":1.41},{"x":8.93,"y":1.39},{"x":12.56,"y":1.38},{"x":5.6,"y":1.36},{"x":5.48,"y":1.3},{"x":6.07,"y":1.28},{"x":6.73,"y":1.31},{"x":7.36,"y":1.3},{"x":7.86,"y":1.33},{"x":9.44,"y":1.34},{"x":11.09,"y":1.32},{"x":4.13,"y":1.28},{"x":3.49,"y":1.25},{"x":3.73,"y":1.23},{"x":4.74,"y":1.25},{"x":4.96,"y":1.26},{"x":5.64,"y":1.23},{"x":6.87,"y":1.24},{"x":7.56,"y":1.22},{"x":7.9,"y":1.26},{"x":8.06,"y":1.22},{"x":8.73,"y":1.26},{"x":9.07,"y":1.18},{"x":2.8,"y":1.22},{"x":1.53,"y":1.12},{"x":3.41,"y":1.15},{"x":3.97,"y":1.15},{"x":4.38,"y":1.13},{"x":5.06,"y":1.11},{"x":5.85,"y":1.09},{"x":6.75,"y":1.19},{"x":7.16,"y":1.19},{"x":7.56,"y":1.17},{"x":8.47,"y":1.09},{"x":3.43,"y":1.09},{"x":3.53,"y":1.06},{"x":3.89,"y":1.07},{"x":3.77,"y":1.02},{"x":4.23,"y":1.06},{"x":4.7,"y":1.07},{"x":6.93,"y":1.08},{"x":8.02,"y":1.04},{"x":9.46,"y":1.03},{"x":10.97,"y":1.07},{"x":10.97,"y":1.02},{"x":12.1,"y":1.12},{"x":14.9,"y":1.01},{"x":2.04,"y":0.96},{"x":3.37,"y":0.98},{"x":3.69,"y":1},{"x":3.97,"y":0.97},{"x":4.44,"y":0.95},{"x":4.13,"y":0.91},{"x":4.54,"y":0.9},{"x":4.03,"y":0.87},{"x":5.28,"y":0.92},{"x":6.17,"y":0.89},{"x":6.81,"y":0.91},{"x":7.04,"y":0.95},{"x":7.9,"y":0.9},{"x":9.76,"y":0.88},{"x":11.47,"y":0.9},{"x":3.33,"y":0.83},{"x":5.44,"y":0.82},{"x":8.67,"y":0.82},{"x":9.84,"y":0.81},{"x":9.92,"y":0.79},{"x":3.99,"y":0.78},{"x":5.73,"y":0.75},{"x":11.33,"y":0.74},{"x":12.52,"y":0.79},{"x":8.23,"y":0.7},{"x":3.17,"y":0.67},{"x":4.23,"y":0.67},{"x":4.74,"y":0.68},{"x":6.45,"y":0.65},{"x":8.75,"y":0.62},{"x":3.37,"y":0.6},{"x":4.27,"y":0.63},{"x":4.29,"y":0.58},{"x":3.63,"y":0.55},{"x":4.9,"y":0.58},{"x":6.99,"y":0.58},{"x":3.83,"y":0.52},{"x":4.74,"y":0.52},{"x":5.1,"y":0.54},{"x":5.24,"y":0.53},{"x":3.73,"y":0.5},{"x":2.82,"y":0.46},{"x":4.58,"y":0.48},{"x":2.92,"y":0.4},{"x":3.12,"y":0.37},{"x":4.9,"y":0.42},{"x":6.07,"y":0.4},{"x":6.83,"y":0.42},{"x":6.55,"y":0.38},{"x":7.22,"y":0.37},{"x":9.33,"y":0.37},{"x":4.09,"y":0.34},{"x":4.66,"y":0.34},{"x":4.74,"y":0.37},{"x":6.75,"y":0.28},{"x":5.95,"y":0.26},{"x":5.04,"y":0.19},{"x":5.14,"y":0.17},{"x":5.34,"y":0.1},{"x":5.5,"y":0.1},{"x":4.13,"y":-0.53},{"x":6.85,"y":-0.91},{"x":16.55,"y":-0.95}
],
"f1": [{"x":-50,"y":0.45},{"x":100,"y":2.5}],
"f2": [{"x":0.26,"y":1.3},{"x":19.66,"y":0.9}],
"f3": [{"x":1.47,"y":0.83},{"x":16.6,"y":1.78}],
"zero": [{"v":0}]
},
"hconcat": [
{
"width": 328, "height": 435,
"title": {"text": "Real loan growth per bank", "offset": 42},
"layer": [
{"data": {"name": "zero"}, "mark": {"type": "rule", "color": "#000000", "strokeWidth": 2},
 "encoding": {"y": {"field": "v", "type": "quantitative", "title": "ROA (%)", "scale": {"domain": [-10, 15], "nice": false, "zero": false}, "axis": {"orient": "right", "values": [-10, -5, 0, 5, 10]}}}},
{"data": {"name": "zero"}, "mark": {"type": "rule", "color": "#000000", "strokeWidth": 2},
 "encoding": {"x": {"field": "v", "type": "quantitative", "title": "Real loan growth (%)", "scale": {"domain": [-50, 100], "nice": false, "zero": false}, "axis": {"values": [-50, -25, 0, 25, 50, 75, 100], "labelExpr": "datum.value == -50 ? '' : datum.label"}}}},
{"data": {"name": "p1"}, "mark": {"type": "circle", "size": 11, "color": "#474747", "opacity": 1},
 "encoding": {
  "x": {"field": "x", "type": "quantitative", "title": "Real loan growth (%)", "scale": {"domain": [-50, 100], "nice": false, "zero": false}, "axis": {"values": [-50, -25, 0, 25, 50, 75, 100], "labelExpr": "datum.value == -50 ? '' : datum.label"}},
  "y": {"field": "y", "type": "quantitative", "title": "ROA (%)", "scale": {"domain": [-10, 15], "nice": false, "zero": false}, "axis": {"orient": "right", "values": [-10, -5, 0, 5, 10]}}}},
{"data": {"name": "f1"}, "mark": {"type": "line", "color": "#555555", "strokeWidth": 3.5},
 "encoding": {
  "x": {"field": "x", "type": "quantitative", "title": "Real loan growth (%)", "scale": {"domain": [-50, 100], "nice": false, "zero": false}, "axis": {"values": [-50, -25, 0, 25, 50, 75, 100], "labelExpr": "datum.value == -50 ? '' : datum.label"}},
  "y": {"field": "y", "type": "quantitative", "title": "ROA (%)", "scale": {"domain": [-10, 15], "nice": false, "zero": false}, "axis": {"orient": "right", "values": [-10, -5, 0, 5, 10]}}}}
]
},
{
"width": 328, "height": 435,
"title": {"text": ["Average short-term", "interest rate per country²"], "offset": 11},
"layer": [
{"data": {"name": "zero"}, "mark": {"type": "rule", "color": "#000000", "strokeWidth": 2},
 "encoding": {"y": {"field": "v", "type": "quantitative", "title": "ROA (%)", "scale": {"domain": [-1, 4], "nice": false, "zero": false}, "axis": {"orient": "right", "values": [-1, 0, 1, 2, 3]}}}},
{"data": {"name": "p2"}, "mark": {"type": "circle", "size": 28, "color": "#474747", "opacity": 1},
 "encoding": {
  "x": {"field": "x", "type": "quantitative", "title": "Short-term market rate (%)", "scale": {"domain": [0, 20], "nice": false, "zero": false}, "axis": {"values": [0, 5, 10, 15, 20], "labelExpr": "datum.value == 0 ? '' : datum.label"}},
  "y": {"field": "y", "type": "quantitative", "title": "ROA (%)", "scale": {"domain": [-1, 4], "nice": false, "zero": false}, "axis": {"orient": "right", "values": [-1, 0, 1, 2, 3]}}}},
{"data": {"name": "f2"}, "mark": {"type": "line", "color": "#555555", "strokeWidth": 3.5},
 "encoding": {
  "x": {"field": "x", "type": "quantitative", "title": "Short-term market rate (%)", "scale": {"domain": [0, 20], "nice": false, "zero": false}, "axis": {"values": [0, 5, 10, 15, 20], "labelExpr": "datum.value == 0 ? '' : datum.label"}},
  "y": {"field": "y", "type": "quantitative", "title": "ROA (%)", "scale": {"domain": [-1, 4], "nice": false, "zero": false}, "axis": {"orient": "right", "values": [-1, 0, 1, 2, 3]}}}}
]
},
{
"width": 328, "height": 435,
"title": {"text": ["Average long-term interest", "rate per country²"], "offset": 11},
"layer": [
{"data": {"name": "zero"}, "mark": {"type": "rule", "color": "#000000", "strokeWidth": 2},
 "encoding": {"y": {"field": "v", "type": "quantitative", "title": "ROA (%)", "scale": {"domain": [-1, 4], "nice": false, "zero": false}, "axis": {"orient": "right", "values": [-1, 0, 1, 2, 3]}}}},
{"data": {"name": "p3"}, "mark": {"type": "circle", "size": 28, "color": "#474747", "opacity": 1},
 "encoding": {
  "x": {"field": "x", "type": "quantitative", "title": "10-year bond yield (%)", "scale": {"domain": [0, 20], "nice": false, "zero": false}, "axis": {"values": [0, 5, 10, 15, 20], "labelExpr": "datum.value == 0 ? '' : datum.label"}},
  "y": {"field": "y", "type": "quantitative", "title": "ROA (%)", "scale": {"domain": [-1, 4], "nice": false, "zero": false}, "axis": {"orient": "right", "values": [-1, 0, 1, 2, 3]}}}},
{"data": {"name": "f3"}, "mark": {"type": "line", "color": "#555555", "strokeWidth": 3.5},
 "encoding": {
  "x": {"field": "x", "type": "quantitative", "title": "10-year bond yield (%)", "scale": {"domain": [0, 20], "nice": false, "zero": false}, "axis": {"values": [0, 5, 10, 15, 20], "labelExpr": "datum.value == 0 ? '' : datum.label"}},
  "y": {"field": "y", "type": "quantitative", "title": "ROA (%)", "scale": {"domain": [-1, 4], "nice": false, "zero": false}, "axis": {"orient": "right", "values": [-1, 0, 1, 2, 3]}}}}
]
}
],
"config": {
 "view": {"fill": "#cfcfcf", "stroke": null},
 "axis": {"grid": true, "gridColor": "#ffffff", "gridWidth": 2, "domain": false, "labelFont": "Liberation Sans", "titleFont": "Liberation Sans", "labelColor": "#000000", "titleColor": "#000000", "titleFontWeight": "normal", "labelFlush": false, "labelOverlap": false, "labelBound": false},
 "axisX": {"ticks": true, "tickSize": -15, "tickColor": "#000000", "tickWidth": 2, "labelFontSize": 24, "labelPadding": 25, "titleFontSize": 25, "titleX": 184, "titleY": 66, "titleAlign": "center", "titleBaseline": "alphabetic"},
 "axisY": {"ticks": false, "labelFontSize": 21, "labelAlign": "right", "labelPadding": -2, "labelBaseline": "alphabetic", "labelOffset": -9, "titleFontSize": 24, "titleAngle": 270, "titleX": 12, "titleY": 245, "titleAlign": "center", "titleBaseline": "middle"},
 "title": {"font": "Open Sans", "fontSize": 29, "fontWeight": "normal", "color": "#000000", "anchor": "start", "frame": "group", "baseline": "bottom", "lineHeight": 31}
}
}
